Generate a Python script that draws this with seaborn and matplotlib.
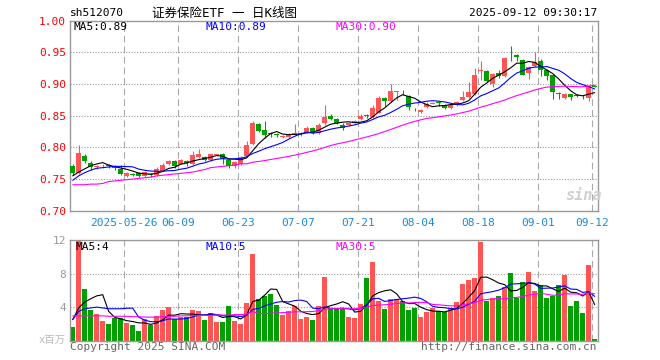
import numpy as np
import pandas as pd
import matplotlib
matplotlib.use('Agg')
import matplotlib.pyplot as plt
import seaborn as sns

# daily K-line data, 2025-05-13 .. 2025-09-12 (88 trading days)
open_ = [0.771, 0.760, 0.787, 0.775, 0.769, 0.770, 0.772, 0.769, 0.766, 0.755,
         0.758, 0.759, 0.755, 0.758, 0.757, 0.763, 0.773, 0.779, 0.774, 0.779,
         0.773, 0.784, 0.785, 0.780, 0.788, 0.789, 0.780, 0.770, 0.774, 0.786,
         0.805, 0.837, 0.827, 0.822, 0.821, 0.817, 0.817, 0.820, 0.821, 0.824,
         0.830, 0.823, 0.838, 0.850, 0.845, 0.836, 0.836, 0.840, 0.844, 0.851,
         0.848, 0.855, 0.878, 0.873, 0.888, 0.888, 0.881, 0.861, 0.856, 0.863,
         0.869, 0.871, 0.867, 0.862, 0.867, 0.874, 0.879, 0.884, 0.921, 0.920,
         0.900, 0.918, 0.912, 0.954, 0.946, 0.938, 0.918, 0.928, 0.937, 0.922,
         0.914, 0.885, 0.878, 0.884, 0.882, 0.880, 0.878, 0.897]
close = [0.760, 0.791, 0.779, 0.769, 0.770, 0.771, 0.771, 0.767, 0.758, 0.760,
         0.757, 0.755, 0.761, 0.756, 0.766, 0.772, 0.779, 0.770, 0.780, 0.775,
         0.788, 0.790, 0.780, 0.789, 0.789, 0.782, 0.770, 0.777, 0.784, 0.804,
         0.838, 0.826, 0.820, 0.821, 0.820, 0.818, 0.821, 0.823, 0.822, 0.831,
         0.823, 0.836, 0.848, 0.845, 0.839, 0.831, 0.839, 0.841, 0.849, 0.850,
         0.862, 0.878, 0.873, 0.889, 0.889, 0.887, 0.863, 0.860, 0.859, 0.869,
         0.870, 0.870, 0.862, 0.867, 0.872, 0.879, 0.888, 0.914, 0.922, 0.905,
         0.916, 0.913, 0.941, 0.953, 0.942, 0.915, 0.927, 0.934, 0.922, 0.913,
         0.887, 0.884, 0.884, 0.879, 0.881, 0.879, 0.897, 0.896]
high = [0.774, 0.804, 0.790, 0.779, 0.772, 0.773, 0.774, 0.772, 0.772, 0.761,
        0.760, 0.761, 0.763, 0.760, 0.769, 0.775, 0.780, 0.780, 0.781, 0.780,
        0.795, 0.797, 0.787, 0.790, 0.790, 0.791, 0.781, 0.778, 0.786, 0.810,
        0.842, 0.839, 0.842, 0.824, 0.823, 0.820, 0.822, 0.837, 0.824, 0.833,
        0.832, 0.838, 0.867, 0.852, 0.847, 0.838, 0.840, 0.844, 0.853, 0.852,
        0.867, 0.881, 0.879, 0.900, 0.889, 0.891, 0.883, 0.862, 0.860, 0.871,
        0.871, 0.874, 0.868, 0.868, 0.873, 0.889, 0.903, 0.925, 0.936, 0.922,
        0.918, 0.922, 0.942, 0.960, 0.947, 0.939, 0.929, 0.950, 0.939, 0.923,
        0.915, 0.888, 0.886, 0.885, 0.884, 0.882, 0.899, 0.898]
low = [0.757, 0.758, 0.775, 0.765, 0.766, 0.768, 0.768, 0.764, 0.757, 0.754,
       0.755, 0.754, 0.754, 0.754, 0.755, 0.762, 0.772, 0.768, 0.773, 0.770,
       0.772, 0.783, 0.779, 0.779, 0.787, 0.774, 0.768, 0.768, 0.772, 0.785,
       0.803, 0.824, 0.815, 0.816, 0.817, 0.815, 0.815, 0.819, 0.818, 0.822,
       0.821, 0.821, 0.836, 0.843, 0.837, 0.828, 0.834, 0.839, 0.843, 0.846,
       0.847, 0.854, 0.866, 0.872, 0.875, 0.882, 0.859, 0.857, 0.855, 0.862,
       0.868, 0.866, 0.861, 0.861, 0.866, 0.873, 0.878, 0.883, 0.907, 0.904,
       0.895, 0.909, 0.911, 0.937, 0.937, 0.914, 0.908, 0.927, 0.913, 0.907,
       0.876, 0.877, 0.877, 0.875, 0.879, 0.877, 0.874, 0.895]
# volume, millions of shares
volume = [1.66, 11.96, 6.22, 3.68, 3.19, 2.38, 1.98, 2.67, 2.71, 2.14,
          1.86, 1.17, 2.59, 1.90, 2.99, 3.68, 4.04, 2.55, 2.79, 2.79,
          3.68, 3.56, 2.46, 3.31, 2.22, 2.22, 4.16, 2.34, 1.98, 4.53,
          10.34, 4.97, 5.37, 5.62, 4.28, 3.07, 3.56, 4.08, 2.59, 2.83,
          2.46, 4.16, 7.56, 3.90, 3.76, 3.84, 2.79, 2.71, 4.40, 7.43,
          9.37, 4.77, 3.80, 5.01, 4.97, 4.73, 3.60, 3.84, 2.83, 3.47,
          3.88, 3.52, 3.43, 3.84, 4.65, 6.75, 7.23, 7.43, 11.80, 4.77,
          5.13, 5.29, 6.46, 8.04, 5.05, 6.99, 8.16, 5.90, 6.59, 5.05,
          5.29, 6.59, 7.84, 4.16, 4.69, 3.35, 9.05, 0.20]

# moving-average values for the first days (earlier data not shown)
ma5_head = [0.755, 0.761, 0.766, 0.771]
ma10_head = [0.748, 0.755, 0.760, 0.764, 0.767, 0.768, 0.769, 0.770, 0.770]
ma30_head = [0.741, 0.741, 0.741, 0.742, 0.742, 0.743, 0.746, 0.747, 0.748, 0.749,
             0.750, 0.751, 0.752, 0.753, 0.755, 0.756, 0.757, 0.758, 0.759, 0.760,
             0.761, 0.763, 0.765, 0.768, 0.769, 0.770, 0.771, 0.772, 0.774]
vma5_head = [2.5, 3.9, 4.6, 5.0]
vma10_head = [2.5, 3.5, 3.8, 3.9, 4.0, 3.9, 3.8, 3.8, 3.8]
vma30_head = [2.95, 2.95, 2.95, 2.95, 2.95, 2.95, 2.9, 2.9, 2.9, 2.9,
              2.85, 2.85, 2.8, 2.8, 2.8, 2.85, 2.9, 2.9, 2.95, 2.95,
              3.0, 3.0, 3.0, 3.0, 3.05, 3.05, 3.05, 3.1, 3.1]

tick_idx = [9, 18, 28, 38, 48, 58, 68, 78, 87]
tick_labels = ['2025-05-26', '06-09', '06-23', '07-07', '07-21',
               '08-04', '08-18', '09-01', '09-12']


def moving_avg(values, n, head):
    s = pd.Series(values).rolling(n).mean()
    s.iloc[:len(head)] = head
    return s.values


RED = '#ff5555'
GREEN = '#00a000'
GRID = '#aaaaaa'
FRAME = '#999999'
BLUE_TXT = '#1a8ad8'

sns.set_style('white')
plt.rcParams['font.family'] = ['DejaVu Sans Mono', 'Noto Sans CJK SC']

idx = np.arange(len(close))
o = np.array(open_)
c = np.array(close)
up = c >= o
colors = np.where(up, RED, GREEN)

ma5 = moving_avg(close, 5, ma5_head)
ma10 = moving_avg(close, 10, ma10_head)
ma30 = moving_avg(close, 30, ma30_head)
vma5 = moving_avg(volume, 5, vma5_head)
vma10 = moving_avg(volume, 10, vma10_head)
vma30 = moving_avg(volume, 30, vma30_head)

W, H = 660, 360
fig = plt.figure(figsize=(6.6, 3.6), dpi=100)
ax1 = fig.add_axes([70 / W, 1 - 210.7 / H, 528 / W, 190 / H])
ax2 = fig.add_axes([70 / W, 1 - 340.5 / H, 528 / W, 100.2 / H])

# price panel
ax1.vlines(idx, low, high, colors=colors, lw=0.8, zorder=2)
body_lo = np.minimum(o, c)
body_h = np.maximum(np.abs(c - o), 0.0012)
ax1.bar(idx, body_h, bottom=body_lo, width=0.78, color=colors, linewidth=0, zorder=3)
sns.lineplot(x=idx, y=ma5, ax=ax1, color='black', lw=0.8, zorder=4)
sns.lineplot(x=idx, y=ma10, ax=ax1, color='#0000ff', lw=0.8, zorder=4)
sns.lineplot(x=idx, y=ma30, ax=ax1, color='#ff00ff', lw=0.8, zorder=4)

# volume panel
vdf = pd.DataFrame({'idx': idx, 'vol': volume, 'dir': np.where(up, 'up', 'down')})
sns.barplot(data=vdf, x='idx', y='vol', hue='dir', palette={'up': RED, 'down': GREEN},
            native_scale=True, dodge=False, width=0.82, saturation=1, linewidth=0,
            errorbar=None, legend=False, ax=ax2, zorder=2)
sns.lineplot(x=idx, y=vma5, ax=ax2, color='black', lw=0.8, zorder=4)
sns.lineplot(x=idx, y=vma10, ax=ax2, color='#0000ff', lw=0.8, zorder=4)
sns.lineplot(x=idx, y=vma30, ax=ax2, color='#ff00ff', lw=0.8, zorder=4)

for ax in (ax1, ax2):
    ax.set_xlim(-0.45, 87.55)
    ax.set_xlabel('')
    ax.set_ylabel('')
    for t in tick_idx:
        ax.axvline(t - 0.4, color=GRID, lw=0.8, ls=(0, (6, 3.5)), zorder=1)
    for sp in ax.spines.values():
        sp.set_color(FRAME)
        sp.set_linewidth(1)
        sp.set_visible(True)

ax1.set_ylim(0.70, 1.00)
ax1.set_yticks([0.70, 0.75, 0.80, 0.85, 0.90, 0.95, 1.00])
ax1.set_yticklabels(['0.70', '0.75', '0.80', '0.85', '0.90', '0.95', '1.00'])
for v in [0.75, 0.80, 0.85, 0.90, 0.95]:
    ax1.axhline(v, color=FRAME, lw=0.8, ls=(0, (1, 1.5)), zorder=1)
ax1.tick_params(axis='y', length=0, pad=3, labelcolor='#ff0000', labelsize=8)
ax1.set_xticks([t - 0.4 for t in tick_idx])
ax1.set_xticklabels(tick_labels)
ax1.tick_params(axis='x', length=0, pad=5, labelcolor=BLUE_TXT, labelsize=8)

ax2.set_ylim(0, 12)
ax2.set_yticks([4, 8, 12])
ax2.set_yticklabels(['4', '8', '12'])
for v in [4, 8]:
    ax2.axhline(v, color=FRAME, lw=0.8, ls=(0, (1, 1.5)), zorder=1)
ax2.tick_params(axis='y', length=0, pad=3, labelcolor='#999999', labelsize=8)
ax2.set_xticks([])


def ftext(x, y, s, **kw):
    fig.text(x / W, 1 - y / H, s, va='center', **kw)


ftext(70, 13, 'sh512070', fontsize=8, color='black')
ftext(224, 13, '证券保险ETF 一 日K线图', fontsize=9, ha='center', color='black')
ftext(597, 13, '2025-09-12 09:30:17', fontsize=8, ha='right', color='black')

ftext(74, 27, f'MA5:{ma5[-1]:.2f}', fontsize=8, color='black')
ftext(205, 27, f'MA10:{ma10[-1]:.2f}', fontsize=8, color='#0000ff')
ftext(335, 27, f'MA30:{ma30[-1]:.2f}', fontsize=8, color='#ff00ff')

ftext(75, 247, f'MA5:{int(vma5[-1])}', fontsize=8, color='black')
ftext(205, 247, f'MA10:{int(vma10[-1])}', fontsize=8, color='#0000ff')
ftext(335, 247, f'MA30:{int(vma30[-1])}', fontsize=8, color='#ff00ff')

ftext(66, 340, 'x百万', fontsize=7.5, ha='right', color='#bbbbbb')
ftext(70, 347, 'Copyright 2025 SINA.COM', fontsize=8, color='#666666')
ftext(597, 347, 'http://finance.sina.com.cn', fontsize=8, ha='right', color='#666666')
ftext(565, 196, 'sina', fontsize=11, color='#d0d0d0', style='italic', weight='bold')

fig.savefig('out.png', dpi=100)
